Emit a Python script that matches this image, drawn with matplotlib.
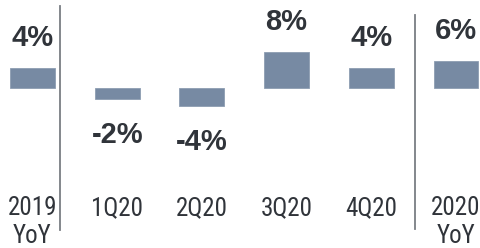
import matplotlib.pyplot as plt

categories = ['2019\nYoY', '1Q20', '2Q20', '3Q20', '4Q20', '2020\nYoY']
values = [4.4, -2.4, -4.0, 8.0, 4.4, 6.0]
labels = ['4%', '-2%', '-4%', '8%', '4%', '6%']

bar_color = '#778aa3'
text_color = '#30343a'

fig = plt.figure(figsize=(4.81, 2.48), dpi=100)
ax = fig.add_axes([0, 0, 1, 1])

x = list(range(len(categories)))
ax.bar(x, values, width=0.53, color=bar_color, edgecolor='#8d9db2', linewidth=0.6)

for xi, v, lab in zip(x, values, labels):
    if v >= 0:
        ax.annotate(lab, (xi, v), xytext=(0, 16), textcoords='offset pixels',
                    ha='center', va='bottom', fontsize=21, fontweight='bold',
                    color=text_color, family=['Liberation Sans', 'DejaVu Sans'])
    else:
        ax.annotate(lab, (xi, v), xytext=(0, -22), textcoords='offset pixels',
                    ha='center', va='top', fontsize=21, fontweight='bold',
                    color=text_color, family=['Liberation Sans', 'DejaVu Sans'])

for xi, cat in zip(x, categories):
    ax.text(xi, -24.0, cat, ha='center', va='top', fontsize=18,
            color=text_color, family=['Roboto Condensed', 'Liberation Sans'],
            linespacing=1.22)

# separators
ax.plot([0.325, 0.325], [-31.6, 18.2], color='#7a7e84', lw=1.3)
ax.plot([4.516, 4.516], [-31.3, 16.2], color='#7a7e84', lw=1.3)

ax.set_xlim(-0.384, 5.295)
ax.set_ylim(-35.56, 19.56)
ax.axis('off')

fig.savefig('out.png', dpi=100)
